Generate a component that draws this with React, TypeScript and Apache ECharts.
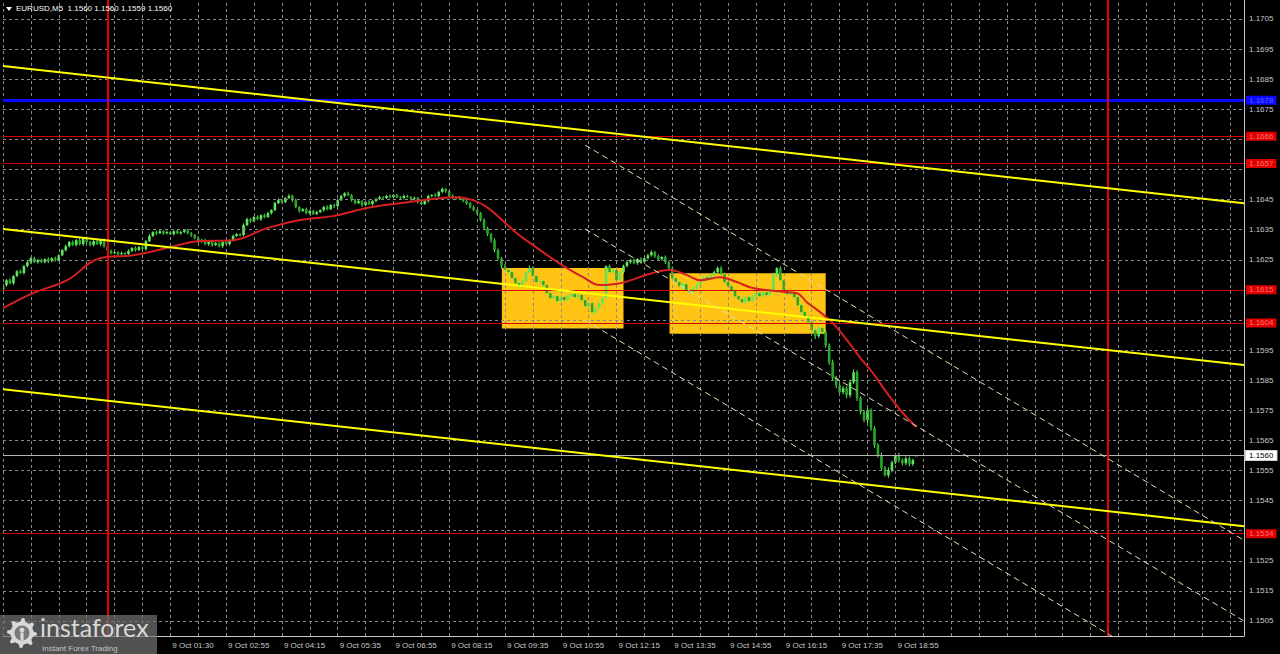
import React, { useEffect, useRef } from "react";
import * as echarts from "echarts";

// ---------- DATA ----------
const symbolTitle = "EURUSD,M5  1.1560 1.1560 1.1559 1.1560";
const timeLabels = [
  "9 Oct 01:30", "9 Oct 02:55", "9 Oct 04:15", "9 Oct 05:35", "9 Oct 06:55",
  "9 Oct 08:15", "9 Oct 09:35", "9 Oct 10:55", "9 Oct 12:15", "9 Oct 13:35",
  "9 Oct 14:55", "9 Oct 16:15", "9 Oct 17:35", "9 Oct 18:55",
];
const firstLabelBar = 48;
const labelEveryBars = 16;
const gridEveryBars = 8;
const priceTicks = [
  1.1505, 1.1515, 1.1525, 1.1535, 1.1545, 1.1555, 1.1565, 1.1575, 1.1585, 1.1595, 1.1605,
  1.1615, 1.1625, 1.1635, 1.1645, 1.1655, 1.1665, 1.1675, 1.1685, 1.1695, 1.1705,
];

// M5 candles, one per bar, from the left edge of the window
const opens = [
  1.16150, 1.16166, 1.16182, 1.16172, 1.16196, 1.16212, 1.16206, 1.16229, 1.16242, 1.16255,
  1.16242, 1.16249, 1.16242, 1.16252, 1.16245, 1.16255, 1.16249, 1.16265, 1.16282, 1.16295,
  1.16309, 1.16299, 1.16315, 1.16302, 1.16322, 1.16309, 1.16299, 1.16312, 1.16302, 1.16315,
  1.16295, 1.16279, 1.16272, 1.16275, 1.16269, 1.16272, 1.16269, 1.16279, 1.16289, 1.16282,
  1.16292, 1.16285, 1.16312, 1.16329, 1.16342, 1.16338, 1.16345, 1.16338, 1.16342, 1.16335,
  1.16345, 1.16338, 1.16342, 1.16348, 1.16338, 1.16332, 1.16322, 1.16309, 1.16315, 1.16302,
  1.16312, 1.16299, 1.16305, 1.16295, 1.16309, 1.16302, 1.16315, 1.16329, 1.16335, 1.16332,
  1.16365, 1.16385, 1.16378, 1.16392, 1.16385, 1.16398, 1.16392, 1.16405, 1.16415, 1.16438,
  1.16448, 1.16442, 1.16455, 1.16462, 1.16448, 1.16425, 1.16412, 1.16418, 1.16405, 1.16412,
  1.16402, 1.16408, 1.16415, 1.16425, 1.16418, 1.16432, 1.16428, 1.16448, 1.16462, 1.16471,
  1.16465, 1.16448, 1.16438, 1.16445, 1.16432, 1.16442, 1.16435, 1.16445, 1.16452, 1.16458,
  1.16455, 1.16462, 1.16458, 1.16465, 1.16458, 1.16455, 1.16462, 1.16458, 1.16452, 1.16455,
  1.16442, 1.16435, 1.16445, 1.16462, 1.16465, 1.16462, 1.16475, 1.16485, 1.16478, 1.16462,
  1.16455, 1.16458, 1.16452, 1.16445, 1.16438, 1.16425, 1.16415, 1.16405, 1.16382, 1.16355,
  1.16335, 1.16315, 1.16282, 1.16255, 1.16229, 1.16216, 1.16209, 1.16189, 1.16172, 1.16162,
  1.16179, 1.16209, 1.16222, 1.16196, 1.16176, 1.16179, 1.16166, 1.16139, 1.16123, 1.16129,
  1.16113, 1.16126, 1.16116, 1.16129, 1.16136, 1.16126, 1.16133, 1.16116, 1.16096, 1.16106,
  1.16076, 1.16089, 1.16106, 1.16123, 1.16229, 1.16209, 1.16216, 1.16182, 1.16209, 1.16229,
  1.16242, 1.16249, 1.16239, 1.16252, 1.16242, 1.16255, 1.16265, 1.16275, 1.16262, 1.16252,
  1.16259, 1.16242, 1.16222, 1.16189, 1.16176, 1.16162, 1.16169, 1.16149, 1.16142, 1.16156,
  1.16166, 1.16182, 1.16192, 1.16186, 1.16199, 1.16209, 1.16222, 1.16202, 1.16176, 1.16162,
  1.16149, 1.16129, 1.16119, 1.16109, 1.16126, 1.16113, 1.16129, 1.16139, 1.16129, 1.16142,
  1.16133, 1.16146, 1.16199, 1.16222, 1.16182, 1.16149, 1.16136, 1.16142, 1.16126, 1.16099,
  1.16076, 1.16063, 1.16043, 1.16016, 1.15996, 1.16023, 1.16010, 1.15966, 1.15910, 1.15857,
  1.15833, 1.15810, 1.15823, 1.15800, 1.15843, 1.15876, 1.15790, 1.15744, 1.15717, 1.15750,
  1.15690, 1.15634, 1.15601, 1.15557, 1.15534, 1.15551, 1.15577, 1.15601, 1.15584, 1.15574,
  1.15590, 1.15571, 1.15600,
];
const closes = [
  1.16166, 1.16182, 1.16172, 1.16196, 1.16212, 1.16206, 1.16229, 1.16242, 1.16255, 1.16242,
  1.16249, 1.16242, 1.16252, 1.16245, 1.16255, 1.16249, 1.16265, 1.16282, 1.16295, 1.16309,
  1.16299, 1.16315, 1.16302, 1.16322, 1.16309, 1.16299, 1.16312, 1.16302, 1.16315, 1.16295,
  1.16279, 1.16272, 1.16275, 1.16269, 1.16272, 1.16269, 1.16279, 1.16289, 1.16282, 1.16292,
  1.16285, 1.16312, 1.16329, 1.16342, 1.16338, 1.16345, 1.16338, 1.16342, 1.16335, 1.16345,
  1.16338, 1.16342, 1.16348, 1.16338, 1.16332, 1.16322, 1.16309, 1.16315, 1.16302, 1.16312,
  1.16299, 1.16305, 1.16295, 1.16309, 1.16302, 1.16315, 1.16329, 1.16335, 1.16332, 1.16365,
  1.16385, 1.16378, 1.16392, 1.16385, 1.16398, 1.16392, 1.16405, 1.16415, 1.16438, 1.16448,
  1.16442, 1.16455, 1.16462, 1.16448, 1.16425, 1.16412, 1.16418, 1.16405, 1.16412, 1.16402,
  1.16408, 1.16415, 1.16425, 1.16418, 1.16432, 1.16428, 1.16448, 1.16462, 1.16471, 1.16465,
  1.16448, 1.16438, 1.16445, 1.16432, 1.16442, 1.16435, 1.16445, 1.16452, 1.16458, 1.16455,
  1.16462, 1.16458, 1.16465, 1.16458, 1.16455, 1.16462, 1.16458, 1.16452, 1.16455, 1.16442,
  1.16435, 1.16445, 1.16462, 1.16465, 1.16462, 1.16475, 1.16485, 1.16478, 1.16462, 1.16455,
  1.16458, 1.16452, 1.16445, 1.16438, 1.16425, 1.16415, 1.16405, 1.16382, 1.16355, 1.16335,
  1.16315, 1.16282, 1.16255, 1.16229, 1.16216, 1.16209, 1.16189, 1.16172, 1.16162, 1.16179,
  1.16209, 1.16222, 1.16196, 1.16176, 1.16179, 1.16166, 1.16139, 1.16123, 1.16129, 1.16113,
  1.16126, 1.16116, 1.16129, 1.16136, 1.16126, 1.16133, 1.16116, 1.16096, 1.16106, 1.16076,
  1.16089, 1.16106, 1.16123, 1.16229, 1.16209, 1.16216, 1.16182, 1.16209, 1.16229, 1.16242,
  1.16249, 1.16239, 1.16252, 1.16242, 1.16255, 1.16265, 1.16275, 1.16262, 1.16252, 1.16259,
  1.16242, 1.16222, 1.16189, 1.16176, 1.16162, 1.16169, 1.16149, 1.16142, 1.16156, 1.16166,
  1.16182, 1.16192, 1.16186, 1.16199, 1.16209, 1.16222, 1.16202, 1.16176, 1.16162, 1.16149,
  1.16129, 1.16119, 1.16109, 1.16126, 1.16113, 1.16129, 1.16139, 1.16129, 1.16142, 1.16133,
  1.16146, 1.16199, 1.16222, 1.16182, 1.16149, 1.16136, 1.16142, 1.16126, 1.16099, 1.16076,
  1.16063, 1.16043, 1.16016, 1.15996, 1.16023, 1.16010, 1.15966, 1.15910, 1.15857, 1.15833,
  1.15810, 1.15823, 1.15800, 1.15843, 1.15876, 1.15790, 1.15744, 1.15717, 1.15750, 1.15690,
  1.15634, 1.15601, 1.15557, 1.15534, 1.15551, 1.15577, 1.15601, 1.15584, 1.15574, 1.15590,
  1.15571, 1.15584, 1.15600,
];
// wick lengths above / below the body, in pips
const upperWickPips = [
  0.5, 0.4, 0.6, 0.3, 0.4, 0.5, 0.3, 0.6, 0.4, 0.5, 0.4, 0.5, 0.3, 0.6, 0.4, 0.5, 0.3, 0.4, 0.6, 0.3,
  0.5, 0.4, 0.6, 0.3, 0.5, 0.4, 0.3, 0.5, 0.4, 0.6, 0.3, 0.5, 0.4, 0.3, 0.5, 0.4, 0.6, 0.3, 0.5, 0.4,
  0.3, 0.4, 0.6, 0.3, 0.5, 0.4, 0.3, 0.5, 0.4, 0.3, 0.5, 0.4, 0.3, 0.5, 0.4, 0.3, 0.6, 0.4, 0.5, 0.3,
  0.4, 0.5, 0.3, 0.4, 0.6, 0.3, 0.5, 0.4, 0.3, 0.6, 0.5, 0.3, 0.4, 0.6, 0.3, 0.5, 0.4, 0.3, 0.5, 0.6,
  0.4, 0.3, 0.6, 0.4, 0.5, 0.3, 0.4, 0.5, 0.3, 0.4, 0.5, 0.3, 0.4, 0.6, 0.3, 0.4, 0.5, 0.4, 0.3, 0.5,
  0.3, 0.4, 0.5, 0.3, 0.4, 0.6, 0.3, 0.4, 0.5, 0.3, 0.4, 0.5, 0.3, 0.4, 0.3, 0.5, 0.4, 0.3, 0.5, 0.4,
  0.3, 0.5, 0.4, 0.3, 0.6, 0.4, 0.5, 0.3, 0.4, 0.5, 0.3, 0.4, 0.5, 0.3, 0.4, 0.5, 0.3, 0.4, 0.6, 0.5,
  0.4, 0.6, 0.5, 0.4, 0.7, 0.5, 0.6, 0.4, 0.8, 0.7, 0.5, 0.9, 0.6, 0.5, 0.7, 0.4, 0.6, 0.5, 0.7, 0.5,
  0.6, 0.4, 0.7, 0.5, 0.4, 0.6, 0.5, 0.7, 0.4, 0.6, 0.5, 0.4, 0.6, 0.2, 0.5, 0.6, 0.8, 0.4, 0.5, 0.6,
  0.4, 0.5, 0.3, 0.6, 0.4, 0.5, 0.6, 0.4, 0.5, 0.3, 0.5, 0.4, 0.6, 0.5, 0.4, 0.6, 0.5, 0.4, 0.6, 0.5,
  0.4, 0.5, 0.6, 0.4, 0.5, 0.6, 0.7, 0.5, 0.4, 0.6, 0.5, 0.4, 0.6, 0.5, 0.4, 0.6, 0.5, 0.4, 0.5, 0.6,
  0.5, 0.8, 0.3, 0.6, 0.5, 0.4, 0.6, 0.5, 0.6, 0.5, 0.6, 0.5, 0.7, 0.6, 0.8, 0.6, 0.7, 0.6, 0.8, 0.7,
  0.6, 0.8, 0.7, 0.9, 1.0, 0.7, 0.6, 0.8, 0.9, 0.6, 0.7, 0.6, 0.8, 0.7, 0.9, 0.6, 0.7, 0.8, 0.6, 0.7,
  0.6, 0.5, 0.0,
];
const lowerWickPips = [
  0.4, 0.6, 0.3, 0.5, 0.4, 0.3, 0.5, 0.4, 0.6, 0.3, 0.5, 0.3, 0.4, 0.6, 0.3, 0.5, 0.4, 0.3, 0.5, 0.4,
  0.3, 0.5, 0.4, 0.6, 0.3, 0.4, 0.5, 0.3, 0.6, 0.4, 0.5, 0.4, 0.3, 0.6, 0.4, 0.5, 0.3, 0.4, 0.5, 0.3,
  0.4, 0.5, 0.3, 0.4, 0.6, 0.3, 0.5, 0.4, 0.3, 0.5, 0.3, 0.5, 0.4, 0.3, 0.6, 0.4, 0.5, 0.3, 0.4, 0.6,
  0.5, 0.3, 0.4, 0.6, 0.3, 0.5, 0.4, 0.3, 0.5, 0.4, 0.3, 0.5, 0.4, 0.3, 0.6, 0.4, 0.3, 0.5, 0.4, 0.3,
  0.5, 0.4, 0.3, 0.6, 0.4, 0.5, 0.3, 0.4, 0.6, 0.3, 0.4, 0.3, 0.5, 0.4, 0.3, 0.6, 0.4, 0.3, 0.5, 0.4,
  0.5, 0.4, 0.3, 0.6, 0.4, 0.3, 0.5, 0.4, 0.3, 0.5, 0.3, 0.4, 0.5, 0.3, 0.4, 0.5, 0.3, 0.6, 0.4, 0.5,
  0.4, 0.3, 0.5, 0.4, 0.3, 0.5, 0.4, 0.6, 0.3, 0.4, 0.5, 0.3, 0.4, 0.6, 0.5, 0.4, 0.6, 0.5, 0.7, 0.6,
  0.8, 0.7, 0.6, 0.9, 0.5, 0.7, 0.6, 0.8, 0.5, 0.6, 0.4, 0.6, 0.7, 0.5, 0.6, 0.8, 0.5, 0.7, 0.6, 0.8,
  0.5, 0.7, 0.4, 0.6, 0.5, 0.7, 0.6, 0.8, 0.5, 0.9, 0.6, 0.5, 0.7, 0.4, 0.6, 0.5, 0.7, 0.5, 0.6, 0.4,
  0.5, 0.4, 0.6, 0.5, 0.3, 0.4, 0.5, 0.6, 0.4, 0.5, 0.6, 0.5, 0.7, 0.6, 0.5, 0.7, 0.6, 0.5, 0.4, 0.6,
  0.5, 0.4, 0.6, 0.5, 0.4, 0.5, 0.6, 0.7, 0.5, 0.6, 0.6, 0.7, 0.5, 0.6, 0.5, 0.4, 0.6, 0.5, 0.4, 0.6,
  0.5, 0.4, 0.6, 0.5, 0.7, 0.5, 0.6, 0.7, 0.6, 0.8, 0.7, 0.6, 0.8, 0.9, 0.6, 0.7, 0.8, 0.9, 0.7, 1.0,
  0.8, 0.7, 1.0, 0.8, 0.6, 0.9, 0.8, 0.7, 0.9, 0.8, 0.9, 0.8, 0.7, 0.4, 0.8, 0.7, 0.6, 0.8, 0.7, 0.6,
  0.7, 0.6, 0.1,
];

// moving average (red line), read at these bar positions
const maBars = [
  0, 8.6, 18.4, 27.8, 37.3, 47, 56.5, 66, 75.7, 85.2, 94.6, 104.4, 113.9, 123.3, 130.2,
  134.8, 138.8, 142.6, 147.4, 152, 156.9, 161.8, 166.4, 171.2, 177, 186.4, 191.3, 196.2, 200,
  205.7, 210.5, 215.1, 224.9, 227.8, 230.6, 234.4, 238.1, 242.1, 245.8, 249.6, 253.6, 258.2, 262,
];
const maValues = [
  1.16089, 1.16139, 1.16182, 1.16255, 1.16265, 1.16289, 1.16312, 1.16315, 1.16355, 1.16382,
  1.16395, 1.16422, 1.16438, 1.16452, 1.16458, 1.16448, 1.16425, 1.16388, 1.16338, 1.16299,
  1.16259, 1.16222, 1.16192, 1.16166, 1.16172, 1.16206, 1.16216, 1.16199, 1.16182, 1.16192,
  1.16176, 1.16156, 1.16142, 1.16139, 1.16109, 1.16076, 1.16039, 1.15983, 1.15926, 1.15873,
  1.15807, 1.15740, 1.15694,
];

// horizontal levels
const redLevels = [1.1666, 1.1657, 1.1615, 1.1604, 1.1534];
const blueLevel = 1.1678;
const lastPrice = 1.156;
// day separators (bar positions)
const daySeparators = [30, 317];

// yellow trend lines: [startBar, startPrice, endBar, endPrice]
const trendLines = [
  [0, 1.16894, 356, 1.16438],
  [0, 1.16352, 356, 1.159],
  [0, 1.1582, 356, 1.15365],
];
// dashed regression channel: [startBar, startPrice, endBar, endPrice]
const channelLines = [
  [167, 1.16631, 356, 1.15318],
  [167, 1.16352, 356, 1.1505],
  [167, 1.16049, 356, 1.14736],
];
// yellow boxes: [fromBar, topPrice, toBar, bottomPrice]
const boxes = [
  [143.1, 1.16223, 178.0, 1.16022],
  [191.2, 1.16205, 236.0, 1.16004],
];

const X_MIN = 0;
const X_MAX = 356;
const Y_MIN = 1.15;
const Y_MAX = 1.17113;
const PIP = 0.0001;

const FONT = "Liberation Sans, Arial, sans-serif";

export default function App() {
  const ref = useRef<HTMLDivElement>(null);

  useEffect(() => {
    if (!ref.current) return;
    document.body.style.margin = "0";
    document.body.style.background = "#000";
    const chart = echarts.init(ref.current, null, { renderer: "svg" });

    const candleData = closes.map((c, k) => {
      const o = opens[k];
      const hi = Math.max(o, c) + upperWickPips[k] * PIP;
      const lo = Math.min(o, c) - lowerWickPips[k] * PIP;
      return [k, o, c, lo, hi];
    });

    const gridBars: number[] = [];
    for (let b = X_MIN; b < X_MAX; b += gridEveryBars) gridBars.push(b);

    // tick labels covered by a level tag are hidden (as in the terminal)
    const coveredByTag = (v: number) => redLevels.some((t) => Math.abs(t - v) < 0.00025);

    const gearCx = 22;
    const gearCy = 633;
    const gearPts: number[][] = [];
    for (let k = 0; k < 40; k++) {
      const a = (k / 40) * Math.PI * 2;
      const r = k % 5 < 2 ? 15 : 11.5;
      gearPts.push([gearCx + r * Math.cos(a), gearCy + r * Math.sin(a)]);
    }

    const lineSeries = (arr: number[][], color: string, width: number, type: any, z: number) =>
      arr.map((l) => ({
        type: "line",
        data: [
          [l[0], l[1]],
          [l[2], l[3]],
        ],
        showSymbol: false,
        symbol: "none",
        silent: true,
        clip: true,
        z,
        lineStyle: { color, width, type },
      }));

    const tag = (bg: string, fg: string, border?: string) => ({
      show: true,
      position: "end",
      distance: 2,
      formatter: (p: any) => Number(p.value).toFixed(4),
      backgroundColor: bg,
      color: fg,
      borderColor: border || bg,
      borderWidth: border ? 1 : 0,
      padding: [1, 3, 0, 3],
      fontSize: 8,
      fontFamily: FONT,
    });

    const option: any = {
      animation: false,
      backgroundColor: "#000",
      grid: { left: 3, right: 36, top: 0, bottom: 18 },
      xAxis: {
        type: "value",
        min: X_MIN,
        max: X_MAX,
        interval: labelEveryBars,
        axisLine: { show: true, onZero: false, lineStyle: { color: "#c8c8c8", width: 1 } },
        axisTick: { show: false },
        splitLine: { show: false },
        axisLabel: {
          color: "#c8c8c8",
          fontSize: 8,
          fontFamily: FONT,
          align: "left",
          margin: 5,
          padding: [0, 0, 0, 2],
          showMinLabel: false,
          showMaxLabel: false,
          formatter: (v: number) => {
            const k = (Math.round(v) - firstLabelBar) / labelEveryBars;
            if (Number.isInteger(k) && k >= 0 && k < timeLabels.length) return timeLabels[k];
            return "";
          },
        },
      },
      yAxis: {
        type: "value",
        position: "right",
        min: Y_MIN,
        max: Y_MAX,
        interval: 0.0005,
        axisLine: { show: true, onZero: false, lineStyle: { color: "#c8c8c8", width: 1 } },
        axisTick: { show: false },
        splitLine: { show: false },
        axisLabel: {
          color: "#c8c8c8",
          fontSize: 8,
          fontFamily: FONT,
          margin: 5,
          formatter: (v: number) => {
            const n = Math.round(v * 10000);
            const p = n / 10000;
            if (n % 10 !== 5 || priceTicks.indexOf(p) < 0 || coveredByTag(p)) return "";
            return p.toFixed(4);
          },
        },
      },
      series: [
        {
          type: "line",
          data: [],
          silent: true,
          z: 1,
          markLine: {
            silent: true,
            precision: 5,
            symbol: ["none", "none"],
            label: { show: false },
            lineStyle: { color: "#8a8a8a", type: [3, 3], width: 1 },
            data: [
              ...priceTicks.map((v) => ({ yAxis: v })),
              ...gridBars.map((b) => ({ xAxis: b })),
            ],
          },
        },
        {
          type: "line",
          data: [],
          silent: true,
          z: 2,
          markArea: {
            silent: true,
            precision: 5,
            itemStyle: { color: "#ffc414", opacity: 1 },
            data: boxes.map((b) => [
              { xAxis: b[0], yAxis: b[1] },
              { xAxis: b[2], yAxis: b[3] },
            ]),
          },
        },
        {
          type: "line",
          data: [],
          silent: true,
          clip: false,
          z: 3,
          markLine: {
            silent: true,
            precision: 5,
            symbol: ["none", "none"],
            data: [
              ...redLevels.map((v) => ({
                yAxis: v,
                lineStyle: { color: "#d40000", width: 1, type: "solid" },
                label: tag("#e00000", "#ff7070"),
              })),
              {
                yAxis: blueLevel,
                lineStyle: { color: "#0a0aff", width: 3, type: "solid" },
                label: tag("#0a0aff", "#5a5aff"),
              },
              {
                yAxis: lastPrice,
                lineStyle: { color: "#b4b4b4", width: 1, type: "solid" },
                label: tag("#ffffff", "#000000", "#d0d0d0"),
              },
              ...daySeparators.map((x) => ({
                xAxis: x,
                lineStyle: { color: "#e80000", width: 2, type: "solid" },
                label: { show: false },
              })),
            ],
          },
        },
        {
          type: "custom",
          z: 4,
          clip: true,
          silent: true,
          data: candleData,
          encode: { x: 0, y: [1, 2, 3, 4] },
          renderItem: (params: any, api: any) => {
            const i = api.value(0);
            const o = api.value(1);
            const c = api.value(2);
            const lo = api.value(3);
            const hi = api.value(4);
            const pO = api.coord([i, o]);
            const pC = api.coord([i, c]);
            const pL = api.coord([i, lo]);
            const pH = api.coord([i, hi]);
            const x = pO[0];
            const top = Math.min(pO[1], pC[1]);
            const h = Math.max(1, Math.abs(pO[1] - pC[1]));
            return {
              type: "group",
              children: [
                {
                  type: "line",
                  shape: { x1: x, y1: pH[1], x2: x, y2: pL[1] },
                  style: { stroke: "#62ec62", lineWidth: 1 },
                },
                {
                  type: "rect",
                  shape: { x: x - 1.3, y: top, width: 2.6, height: h },
                  style: { fill: c >= o ? "#5ee65e" : "#27a827" },
                },
              ],
            };
          },
        },
        {
          type: "line",
          z: 5,
          silent: true,
          data: maBars.map((b, k) => [b, maValues[k]]),
          showSymbol: false,
          symbol: "none",
          smooth: 0.4,
          lineStyle: { color: "#d42020", width: 2 },
        },
        ...lineSeries(trendLines, "#ffff00", 2, "solid", 6),
        ...lineSeries(channelLines, "#e4e4b0", 1, [6, 4], 6),
      ],
      graphic: [
        {
          type: "polygon",
          shape: { points: [[6, 7], [12, 7], [9, 11]] },
          style: { fill: "#ffffff" },
          z: 100,
        },
        {
          type: "text",
          x: 16,
          y: 4,
          style: { text: symbolTitle, fill: "#ffffff", font: `8px ${FONT}` },
          z: 100,
        },
        {
          type: "rect",
          shape: { x: 0, y: 615, width: 157, height: 39 },
          style: { fill: "rgba(112,112,112,0.72)" },
          z: 100,
        },
        {
          type: "polygon",
          shape: { points: gearPts },
          style: { fill: "#d8d8d8" },
          z: 101,
        },
        {
          type: "circle",
          shape: { cx: gearCx, cy: gearCy, r: 7.5 },
          style: { fill: "#7a7a7a" },
          z: 102,
        },
        {
          type: "circle",
          shape: { cx: gearCx, cy: gearCy - 3, r: 2.4 },
          style: { fill: "#d8d8d8" },
          z: 103,
        },
        {
          type: "rect",
          shape: { x: gearCx - 1.6, y: gearCy - 0.5, width: 3.2, height: 8 },
          style: { fill: "#d8d8d8" },
          z: 103,
        },
        {
          type: "text",
          x: 40,
          y: 614,
          style: { text: "instaforex", fill: "#d8d8d8", font: `25px Lato, ${FONT}` },
          z: 101,
        },
        {
          type: "text",
          x: 42,
          y: 644,
          style: { text: "Instant Forex Trading", fill: "#c4c4c4", font: `8px ${FONT}` },
          z: 101,
        },
      ],
    };

    chart.setOption(option);
    return () => chart.dispose();
  }, []);

  return (
    <div
      ref={ref}
      style={{ position: "fixed", left: 0, top: 0, width: 1280, height: 654, background: "#000" }}
    />
  );
}
